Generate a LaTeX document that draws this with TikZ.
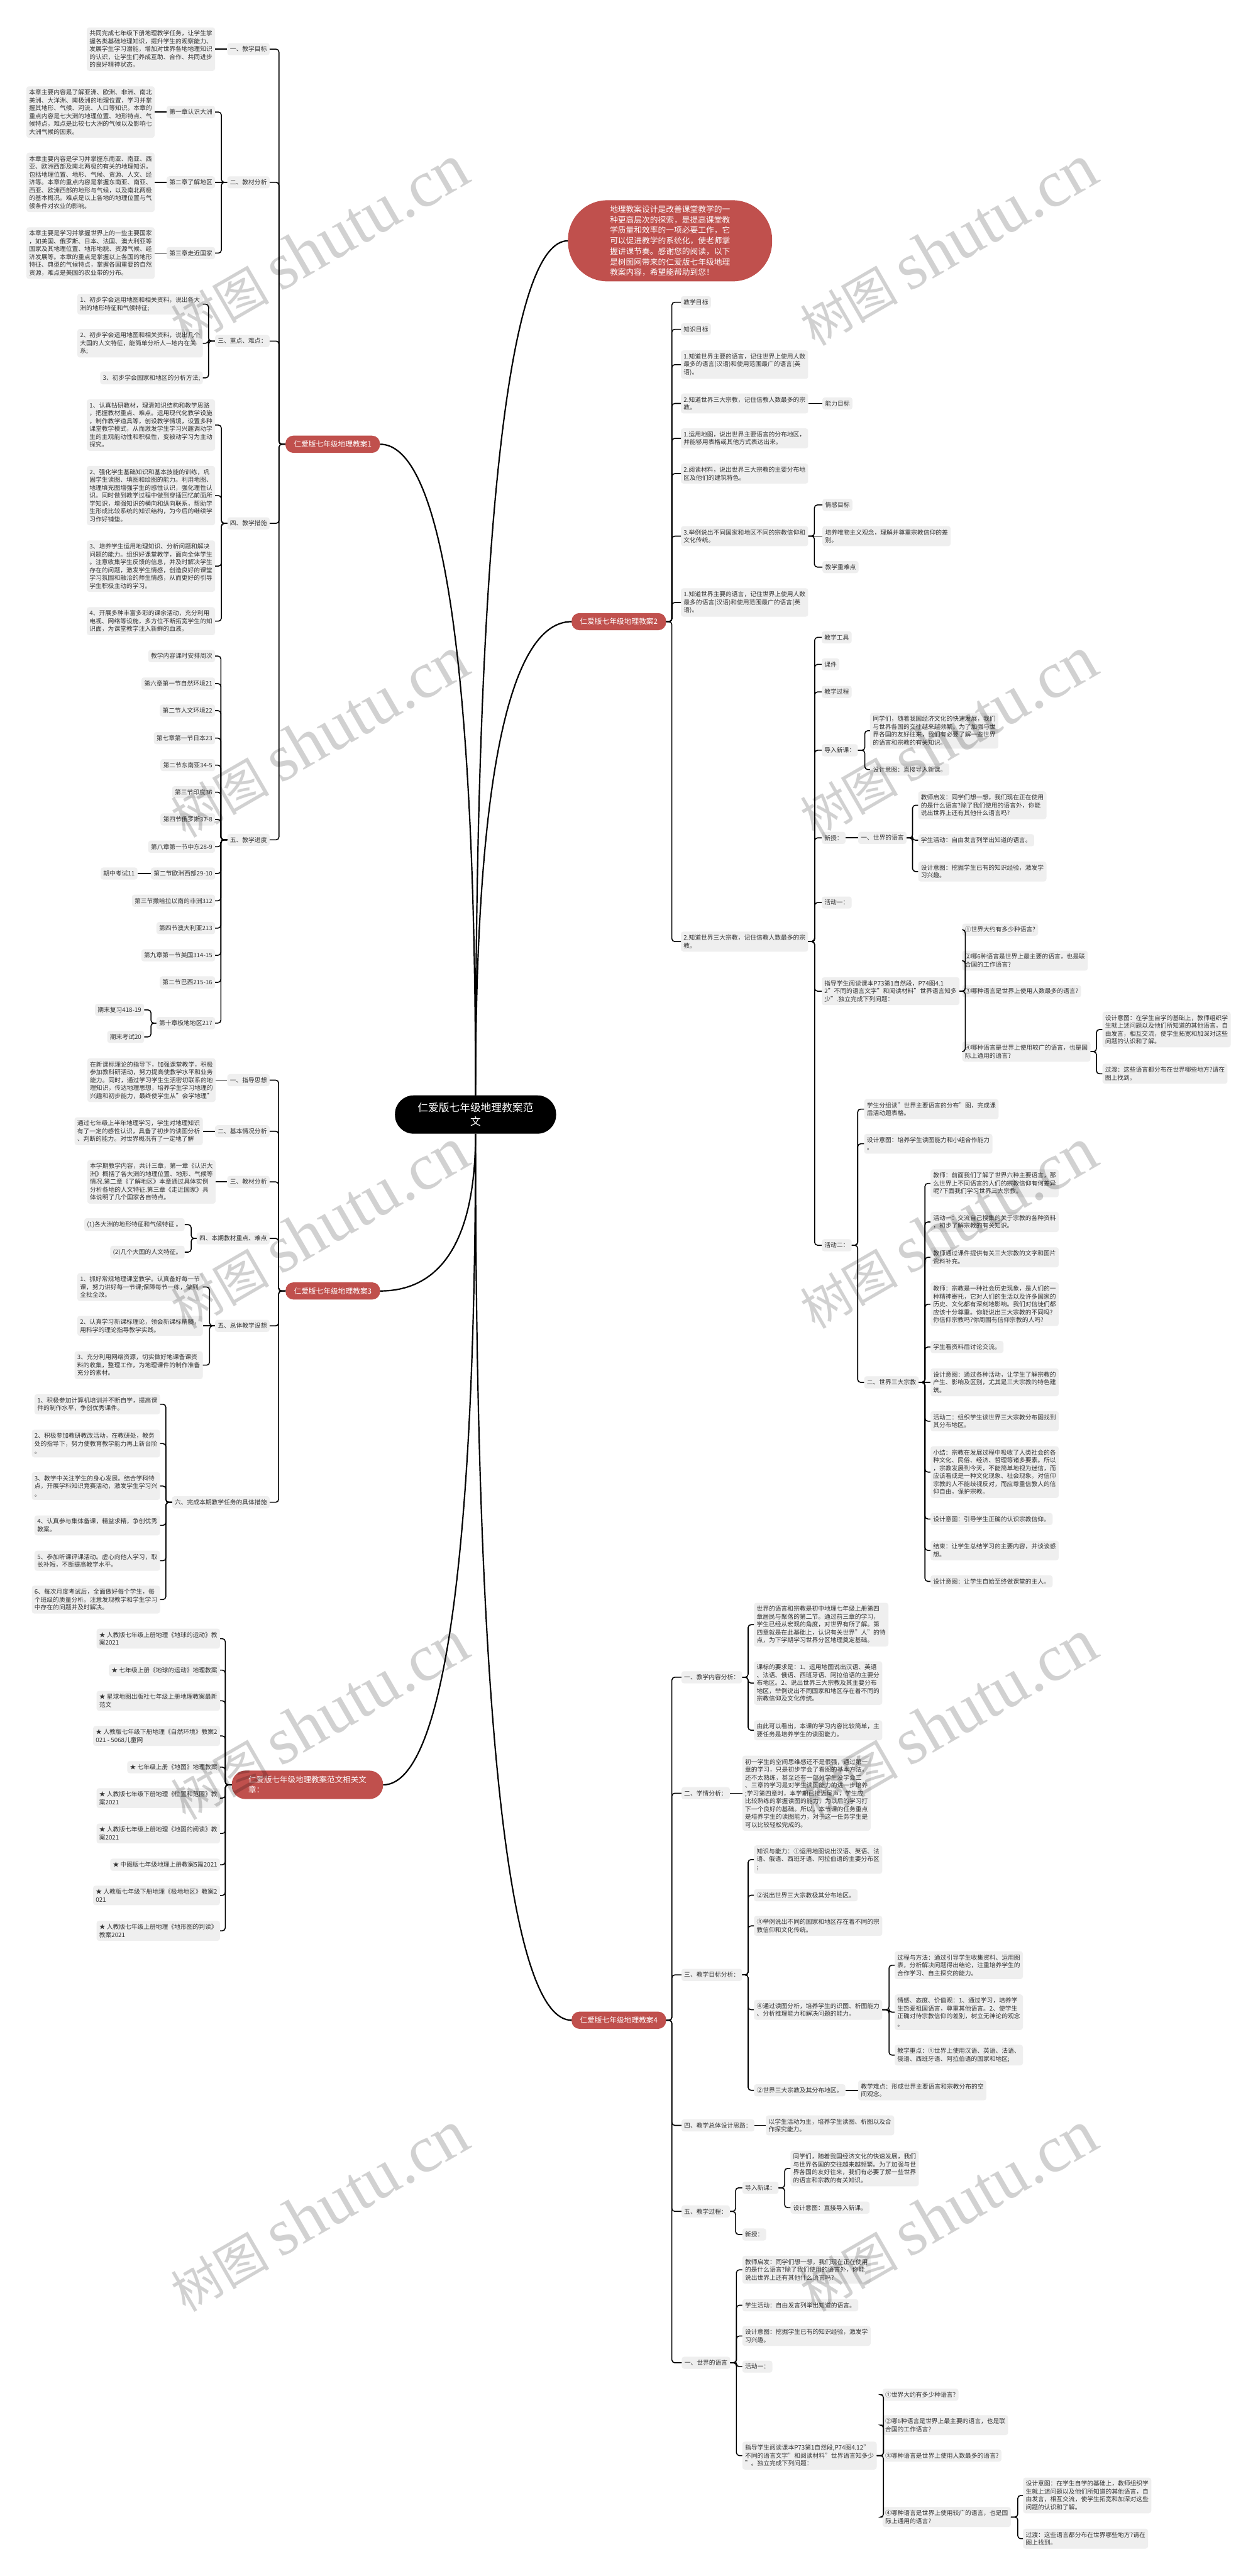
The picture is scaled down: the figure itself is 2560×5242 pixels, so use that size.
\documentclass[tikz,border=0pt]{standalone}
\usepackage{fontspec}
\setmainfont{Noto Sans CJK SC}
\newfontfamily\wmser{Liberation Serif}
\definecolor{bxg}{RGB}{239,239,239}
\definecolor{txt}{RGB}{51,51,51}
\definecolor{redc}{RGB}{192,80,77}
\newcommand\fbody{\fontsize{12.5pt}{16pt}\selectfont}
\newcommand\fred{\fontsize{15pt}{19pt}\selectfont}
\newcommand\fintro{\fontsize{16.3pt}{21.4pt}\selectfont}
\newcommand\froot{\fontsize{21.4pt}{29pt}\selectfont}
\newcommand\frel{\fontsize{16pt}{20.6pt}\selectfont}
\newcommand\nL[4]{\node[bx,anchor=east] (#1) at (#2,#3) {#4};}
\newcommand\nR[4]{\node[bx,anchor=west] (#1) at (#2,#3) {#4};}
\newcommand\lkL[3]{\draw[cn] (#1.west) -- ++(-#3,0) |- (#2.east);}
\newcommand\lkR[3]{\draw[cn] (#1.east) -- ++(#3,0) |- (#2.west);}
\newcommand\stL[2]{\draw[cn] (#1.west) -- (#2.east);}
\newcommand\stR[2]{\draw[cn] (#1.east) -- (#2.west);}
\newcommand\wmark[2]{\node[rotate=30,text=black,opacity=0.18,inner sep=0pt] at (#1,#2) {\fontsize{100pt}{100pt}\selectfont 树图 {\wmser\fontsize{135pt}{135pt}\selectfont shutu.cn}};}
\begin{document}
\begin{tikzpicture}[x=1pt,y=-1pt,
  bx/.style={fill=bxg,text=txt,font=\fbody,rounded corners=5pt,inner xsep=5.5pt,inner ysep=6.5pt,align=left},
  rd/.style={fill=redc,text=white,font=\fred,rounded corners=16pt,inner xsep=17pt,inner ysep=10.5pt},
  intro/.style={fill=redc,text=white,font=\fintro,align=left,minimum width=415.5pt,minimum height=165pt,rounded corners=80pt,inner sep=0pt},
  rootn/.style={fill=black,text=white,font=\froot,align=center,minimum width=328pt,minimum height=78pt,rounded corners=38pt,inner sep=0pt},
  rel/.style={fill=redc,text=white,font=\frel,align=left,minimum width=308pt,minimum height=58pt,rounded corners=28pt,inner sep=0pt},
  cn/.style={draw=black,line width=2pt,rounded corners=6pt},
  rc/.style={draw=black,line width=2.8pt}]
\useasboundingbox (0,0) rectangle (2560,5242);
\fill[white] (0,0) rectangle (2560,5242);

% ---------- root and first level ----------
\node[rootn] (root) at (968,2268) {仁爱版七年级地理教案范\\文};
\node[intro,anchor=west] (r0) at (1156,490) {地理教案设计是改善课堂教学的一\\种更高层次的探索，是提高课堂教\\学质量和效率的一项必要工作，它\\可以促进教学的系统化，使老师掌\\握讲课节奏。感谢您的阅读，以下\\是树图网带来的仁爱版七年级地理\\教案内容，希望能帮助到您！};
\node[rd] (r1) at (677.25,904) {仁爱版七年级地理教案1};
\node[rd] (r2) at (1259.75,1265) {仁爱版七年级地理教案2};
\node[rd] (r3) at (677.5,2627) {仁爱版七年级地理教案3};
\node[rd] (r4) at (1259.75,4111) {仁爱版七年级地理教案4};
\node[rel,anchor=east] (r5) at (780,3632) {仁爱版七年级地理教案范文相关文\\章：};

\draw[rc] (root.north) .. controls (968,1301.5) and (892.8,904) .. (r1.east);
\draw[rc] (root.north) .. controls (968,1011.7) and (1043.2,490) .. (r0.west);
\draw[rc] (root.north) .. controls (968,1554.2) and (1043.6,1265) .. (r2.west);
\draw[rc] (root.south) .. controls (968,2531) and (893.2,2627) .. (r3.east);
\draw[rc] (root.south) .. controls (968,3234.5) and (892.8,3632) .. (r5.east);
\draw[rc] (root.south) .. controls (968,3569.8) and (1043.6,4111) .. (r4.west);

% ---------- 教案1 ----------
\nL{a1}{549}{100}{一、教学目标}
\nL{a1c}{438}{100}{共同完成七年级下册地理教学任务，让学生掌\\握各类基础地理知识，提升学生的观察能力、\\发展学生学习潜能，增加对世界各地地理知识\\的认识，让学生们养成互助、合作、共同进步\\的良好精神状态。}
\nL{a2}{549}{371}{二、教材分析}
\nL{b1}{438}{228}{第一章认识大洲}
\nL{b2}{438}{371}{第二章了解地区}
\nL{b3}{438}{515}{第三章走近国家}
\nL{b1c}{315}{228}{本章主要内容是了解亚洲、欧洲、非洲、南北\\美洲、大洋洲、南极洲的地理位置，学习并掌\\握其地形、气候、河流、人口等知识。本章的\\重点内容是七大洲的地理位置、地形特点、气\\候特点，难点是比较七大洲的气候以及影响七\\大洲气候的因素。}
\nL{b2c}{315}{371}{本章主要内容是学习并掌握东南亚、南亚、西\\亚、欧洲西部及南北两极的有关的地理知识。\\包括地理位置、地形、气候、资源、人文、经\\济等。本章的重点内容是掌握东南亚、南亚、\\西亚、欧洲西部的地形与气候，以及南北两极\\的基本概况。难点是以上各地的地理位置与气\\候条件对农业的影响。}
\nL{b3c}{315}{515}{本章主要是学习并掌握世界上的一些主要国家\\，如美国、俄罗斯、日本、法国、澳大利亚等\\国家及其地理位置、地形地貌、资源气候、经\\济发展等。本章的重点是掌握以上各国的地形\\特征、典型的气候特点，掌握各国重要的自然\\资源，难点是美国的农业带的分布。}
\nL{a3}{549}{694}{三、重点、难点：}
\nL{c1}{413}{619}{1、初步学会运用地图和相关资料，说出各大\\洲的地形特征和气候特征;}
\nL{c2}{413}{698.5}{2、初步学会运用地图和相关资料，说出几个\\大国的人文特征，能简单分析人—地内在关\\系;}
\nL{c3}{413}{769}{3、初步学会国家和地区的分析方法;}
\nL{a4}{549}{1065}{四、教学措施}
\nL{d1}{438}{865}{1、认真钻研教材，理清知识结构和教学思路\\，把握教材重点、难点。运用现代化教学设施\\，制作教学道具等，创设教学情境，设置多种\\课堂教学模式，从而激发学生学习兴趣调动学\\生的主观能动性和积极性，变被动学习为主动\\探究。}
\nL{d2}{438}{1008.5}{2、强化学生基础知识和基本技能的训练，巩\\固学生读图、填图和绘图的能力。利用地图、\\地理填充图增强学生的感性认识，强化理性认\\识。同时做到教学过程中做到穿插回忆前面所\\学知识，增强知识的横向和纵向联系，帮助学\\生形成比较系统的知识结构，为今后的继续学\\习作好铺垫。}
\nL{d3}{438}{1152}{3、培养学生运用地理知识、分析问题和解决\\问题的能力。组织好课堂教学，面向全体学生\\。注意收集学生反馈的信息，并及时解决学生\\存在的问题，激发学生情感，创造良好的课堂\\学习氛围和融洽的师生情感，从而更好的引导\\学生积极主动的学习。}
\nL{d4}{438}{1264}{4、开展多种丰富多彩的课余活动，充分利用\\电视、网络等设施，多方位不断拓宽学生的知\\识面，为课堂教学注入新鲜的血液。}
\nL{a5}{549}{1709}{五、教学进度}
\nL{e1}{438}{1335}{教学内容课时安排周次}
\nL{e2}{438}{1391}{第六章第一节自然环境21}
\nL{e3}{438}{1446}{第二节人文环境22}
\nL{e4}{438}{1502}{第七章第一节日本23}
\nL{e5}{438}{1557}{第二节东南亚34-5}
\nL{e6}{438}{1612}{第三节印度36}
\nL{e7}{438}{1667.5}{第四节俄罗斯37-8}
\nL{e8}{438}{1723}{第八章第一节中东28-9}
\nL{e9}{438}{1777.6}{第二节欧洲西部29-10}
\nL{e9a}{280}{1777.6}{期中考试11}
\nL{e10}{438}{1833}{第三节撒哈拉以南的非洲312}
\nL{e11}{438}{1888.7}{第四节澳大利亚213}
\nL{e12}{438}{1944}{第九章第一节美国314-15}
\nL{e13}{438}{1999}{第二节巴西215-16}
\nL{e14}{438}{2082}{第十章极地地区217}
\nL{e14a}{293.5}{2055}{期末复习418-19}
\nL{e14b}{293.5}{2110}{期末考试20}

\foreach \c in {a1,a2,a3,a4,a5} {\lkL{r1}{\c}{13}}
\stL{a1}{a1c}
\lkL{a2}{b1}{12} \stL{a2}{b2} \lkL{a2}{b3}{12}
\stL{b1}{b1c} \stL{b2}{b2c} \stL{b3}{b3c}
\foreach \c in {c1,c2,c3} {\lkL{a3}{\c}{13}}
\foreach \c in {d1,d2,d3,d4} {\lkL{a4}{\c}{12}}
\foreach \c in {e1,e2,e3,e4,e5,e6,e7,e8,e9,e10,e11,e12,e13,e14} {\lkL{a5}{\c}{13}}
\stL{e9}{e9a}
\lkL{e14}{e14a}{11} \lkL{e14}{e14b}{11}

% ---------- 教案3 ----------
\nL{f1}{549}{2198}{一、指导思想}
\nL{f1c}{439}{2198}{在新课标理论的指导下，加强课堂教学，积极\\参加教科研活动，努力提高使教学水平和业务\\能力。同时，通过学习学生生活密切联系的地\\理知识，传达地理思想，培养学生学习地理的\\兴趣和初步能力，最终使学生从"会学地理"}
\nL{f2}{549}{2302}{二、基本情况分析}
\nL{f2c}{413}{2302}{通过七年级上半年地理学习，学生对地理知识\\有了一定的感性认识，具备了初步的读图分析\\、判断的能力。对世界概况有了一定地了解}
\nL{f3}{549}{2405}{三、教材分析}
\nL{f3c}{439}{2405}{本学期教学内容，共计三章，第一章《认识大\\洲》概括了各大洲的地理位置、地形、气候等\\情况.第二章《了解地区》本章通过具体实例\\分析各地的人文特征.第三章《走近国家》具\\体说明了几个国家各自特点。}
\nL{f4}{549}{2520}{四、本期教材重点、难点}
\nL{f4a}{376}{2492}{(1)各大洲的地形特征和气候特征 。}
\nL{f4b}{376}{2548}{(2)几个大国的人文特征。}
\nL{f5}{549}{2698}{五、总体教学设想}
\nL{f5a}{413}{2619}{1、抓好常规地理课堂教学。认真备好每一节\\课，努力讲好每一节课;保障每节一练，做到\\全批全改。}
\nL{f5b}{413}{2698}{2、认真学习新课标理论，领会新课标精髓，\\用科学的理论指导教学实践。}
\nL{f5c}{413}{2778}{3、充分利用网络资源，切实做好地课备课资\\料的收集，整理工作，为地理课件的制作准备\\充分的素材。}
\nL{f6}{549}{3057}{六、完成本期教学任务的具体措施}
\nL{f6a}{326}{2857.5}{1、积极参加计算机培训并不断自学，提高课\\件的制作水平，争创优秀课件。}
\nL{f6b}{326}{2937.5}{2、积极参加教研教改活动，在教研处，教务\\处的指导下，努力使教育教学能力再上新台阶\\。}
\nL{f6c}{326}{3024}{3、教学中关注学生的身心发展。结合学科特\\点，开展学科知识竞赛活动，激发学生学习兴\\。}
\nL{f6d}{326}{3104}{4、认真参与集体备课，精益求精，争创优秀\\教案。}
\nL{f6e}{326}{3176}{5、参加听课评课活动。虚心向他人学习，取\\长补短，不断提高教学水平。}
\nL{f6f}{326}{3255}{6、每次月度考试后，全面做好每个学生，每\\个班级的质量分析。注意发现教学和学生学习\\中存在的问题并及时解决。}

\foreach \c in {f1,f2,f3,f4,f5,f6} {\lkL{r3}{\c}{14}}
\stL{f1}{f1c} \stL{f2}{f2c} \stL{f3}{f3c}
\lkL{f4}{f4a}{11} \lkL{f4}{f4b}{11}
\lkL{f5}{f5a}{11} \stL{f5}{f5b} \lkL{f5}{f5c}{11}
\foreach \c in {f6a,f6b,f6c,f6d,f6e,f6f} {\lkL{f6}{\c}{12.5}}

% ---------- 相关文章 ----------
\nL{g1}{448}{3334.5}{★ 人教版七年级上册地理《地球的运动》教\\案2021}
\nL{g2}{448}{3398.6}{★ 七年级上册《地球的运动》地理教案}
\nL{g3}{448}{3461}{★ 星球地图出版社七年级上册地理教案最新\\范文}
\nL{g4}{448}{3532.5}{★ 人教版七年级下册地理《自然环境》教案2\\021 - 5068儿童网}
\nL{g5}{448}{3596}{★ 七年级上册《地图》地理教案}
\nL{g6}{448}{3659}{★ 人教版七年级下册地理《位置和范围》教\\案2021}
\nL{g7}{448}{3731}{★ 人教版七年级上册地理《地图的阅读》教\\案2021}
\nL{g8}{448}{3794.6}{★ 中图版七年级地理上册教案5篇2021}
\nL{g9}{448}{3857}{★ 人教版七年级下册地理《极地地区》教案2\\021}
\nL{g10}{448}{3929}{★ 人教版七年级上册地理《地形图的判读》\\教案2021}
\foreach \c in {g1,g2,g3,g4,g5,g6,g7,g8,g9,g10} {\lkL{r5}{\c}{13}}

% ---------- 教案2 ----------
\nR{h1}{1386}{615}{教学目标}
\nR{h2}{1386}{670}{知识目标}
\nR{h3}{1386}{742}{1.知道世界主要的语言，记住世界上使用人数\\最多的语言(汉语)和使用范围最广的语言(英\\语)。}
\nR{h4}{1386}{821}{2.知道世界三大宗教，记住信教人数最多的宗\\教。}
\nR{h4a}{1674}{821}{能力目标}
\nR{h5}{1386}{892}{1.运用地图，说出世界主要语言的分布地区，\\并能够用表格或其他方式表达出来。}
\nR{h6}{1386}{963.7}{2.阅读材料，说出世界三大宗教的主要分布地\\区及他们的建筑特色。}
\nR{h7}{1386}{1091}{3.举例说出不同国家和地区不同的宗教信仰和\\文化传统。}
\nR{h7a}{1674}{1027.5}{情感目标}
\nR{h7b}{1674}{1091}{培养唯物主义观念，理解并尊重宗教信仰的差\\别。}
\nR{h7c}{1674}{1154}{教学重难点}
\nR{h8}{1386}{1226}{1.知道世界主要的语言，记住世界上使用人数\\最多的语言(汉语)和使用范围最广的语言(英\\语)。}
\nR{h9}{1386}{1916}{2.知道世界三大宗教，记住信教人数最多的宗\\教。}
\nR{i1}{1672.5}{1297}{教学工具}
\nR{i2}{1672.5}{1352}{课件}
\nR{i3}{1672.5}{1408}{教学过程}
\nR{i4}{1672.5}{1526.7}{导入新课：}
\nR{i4a}{1771}{1487}{同学们，随着我国经济文化的快速发展，我们\\与世界各国的交往越来越频繁。为了加强与世\\界各国的友好往来，我们有必要了解一些世界\\的语言和宗教的有关知识。}
\nR{i4b}{1771}{1566}{设计意图：直接导入新课。}
\nR{i5}{1672.5}{1705}{新授：}
\nR{i5a}{1746.7}{1705}{一、世界的语言}
\nR{i5a1}{1869}{1638.6}{教师启发：同学们想一想，我们现在正在使用\\的是什么语言?除了我们使用的语言外，你能\\说出世界上还有其他什么语言吗?}
\nR{i5a2}{1869}{1709.8}{学生活动：自由发言列举出知道的语言。}
\nR{i5a3}{1869}{1773.5}{设计意图：挖掘学生已有的知识经验，激发学\\习兴趣。}
\nR{i6}{1672.5}{1836.6}{活动一：}
\nR{i7}{1672.5}{2017}{指导学生阅读课本P73第1自然段，P74图4.1\\2"不同的语言文字"和阅读材料"世界语言知多\\少".独立完成下列问题：}
\nR{j1}{1958.6}{1891.7}{①世界大约有多少种语言?}
\nR{j2}{1958.6}{1954.8}{②哪6种语言是世界上最主要的语言，也是联\\合国的工作语言?}
\nR{j3}{1958.6}{2017}{③哪种语言是世界上使用人数最多的语言?}
\nR{j4}{1958.6}{2140}{④哪种语言是世界上使用较广的语言，也是国\\际上通用的语言?}
\nR{j4a}{2244}{2095}{设计意图：在学生自学的基础上，教师组织学\\生就上述问题以及他们所知道的其他语言，自\\由发言，相互交流，使学生拓宽和加深对这些\\问题的认识和了解。}
\nR{j4b}{2244}{2185}{过渡：这些语言都分布在世界哪些地方?请在\\图上找到。}
\nR{i8}{1672.5}{2534}{活动二：}
\nR{k1}{1759}{2257}{学生分组读"世界主要语言的分布"图，完成课\\后活动题表格。}
\nR{k2}{1759}{2327.5}{设计意图：培养学生读图能力和小组合作能力\\。}
\nR{k3}{1759}{2813}{二、世界三大宗教}
\nR{k31}{1894}{2408}{教师：前面我们了解了世界六种主要语言，那\\么世界上不同语言的人们的宗教信仰有何差异\\呢?下面我们学习世界三大宗教。}
\nR{k32}{1894}{2486.6}{活动一：交流自己搜集的关于宗教的各种资料\\，初步了解宗教的有关知识。}
\nR{k33}{1894}{2558.5}{教师通过课件提供有关三大宗教的文字和图片\\资料补充。}
\nR{k34}{1894}{2654}{教师：宗教是一种社会历史现象，是人们的一\\种精神寄托，它对人们的生活以及许多国家的\\历史、文化都有深刻地影响。我们对信徒们都\\应该十分尊重。你能说出三大宗教的不同吗?\\你信仰宗教吗?你周围有信仰宗教的人吗?}
\nR{k35}{1894}{2741}{学生看资料后讨论交流。}
\nR{k36}{1894}{2813}{设计意图：通过各种活动，让学生了解宗教的\\产生、影响及区别，尤其是三大宗教的特色建\\筑。}
\nR{k37}{1894}{2892}{活动二：组织学生读世界三大宗教分布图找到\\其分布地区。}
\nR{k38}{1894}{2995.6}{小结：宗教在发展过程中吸收了人类社会的各\\种文化、民俗、经济、哲理等诸多要素。所以\\，宗教发展到今天，不能简单地视为迷信，而\\应该看成是一种文化现象、社会现象。对信仰\\宗教的人不能歧视反对，而应尊重信教人的信\\仰自由，保护宗教。}
\nR{k39}{1894}{3091}{设计意图：引导学生正确的认识宗教信仰。}
\nR{k310}{1894}{3155}{结束：让学生总结学习的主要内容，并谈谈感\\想。}
\nR{k311}{1894}{3218}{设计意图：让学生自始至终做课堂的主人。}

\foreach \c in {h1,h2,h3,h4,h5,h6,h7,h8,h9} {\lkR{r2}{\c}{11.5}}
\stR{h4}{h4a}
\lkR{h7}{h7a}{12.5} \stR{h7}{h7b} \lkR{h7}{h7c}{12.5}
\foreach \c in {i1,i2,i3,i4,i5,i6,i7,i8} {\lkR{h9}{\c}{13}}
\lkR{i4}{i4a}{14} \lkR{i4}{i4b}{14}
\stR{i5}{i5a}
\foreach \c in {i5a1,i5a2,i5a3} {\lkR{i5a}{\c}{12}}
\lkR{i7}{j1}{11.6} \lkR{i7}{j2}{11.6} \stR{i7}{j3} \lkR{i7}{j4}{11.6}
\lkR{j4}{j4a}{12} \lkR{j4}{j4b}{12}
\foreach \c in {k1,k2,k3} {\lkR{i8}{\c}{12}}
\foreach \c in {k31,k32,k33,k34,k35,k37,k38,k39,k310,k311} {\lkR{k3}{\c}{12.5}}
\stR{k3}{k36}

% ---------- 教案4 ----------
\nR{l1}{1387}{3413}{一、教学内容分析：}
\nR{l1a}{1534.7}{3306}{世界的语言和宗教是初中地理七年级上册第四\\章居民与聚落的第二节。通过前三章的学习，\\学生已经从宏观的角度，对世界有所了解。第\\四章就是在此基础上，认识有关世界"人"的特\\点，为下学期学习世界分区地理奠定基础。}
\nR{l1b}{1534.7}{3425}{课标的要求是：1、运用地图说出汉语、英语\\、法语、俄语、西班牙语、阿拉伯语的主要分\\布地区。2、说出世界三大宗教及其主要分布\\地区，举例说出不同国家和地区存在着不同的\\宗教信仰及文化传统。}
\nR{l1c}{1534.7}{3521}{由此可以看出，本课的学习内容比较简单，主\\要任务是培养学生的读图能力。}
\nR{l2}{1387}{3649}{二、学情分析：}
\nR{l2a}{1511}{3649}{初一学生的空间思维感还不是很强，通过第一\\章的学习，只是初步学会了看图的基本方法，\\还不太熟练，甚至还有一部分学生没学会二\\、三章的学习是对学生读图能力的进一步培养\\;学习第四章时，本学期已接近尾声，学生应\\比较熟练的掌握读图的能力，为以后的学习打\\下一个良好的基础。所以，本节课的任务重点\\是培养学生的读图能力，对于这一任务学生是\\可以比较轻松完成的。}
\nR{l3}{1387}{4018.75}{三、教学目标分析：}
\nR{m1}{1534.7}{3784}{知识与能力：①运用地图说出汉语、英语、法\\语、俄语、西班牙语、阿拉伯语的主要分布区\\;}
\nR{m2}{1534.7}{3856.6}{②说出世界三大宗教极其分布地区。}
\nR{m3}{1534.7}{3919}{③举例说出不同的国家和地区存在着不同的宗\\教信仰和文化传统。}
\nR{m4}{1534.7}{4089.7}{④通过读图分析，培养学生的识图、析图能力\\、分析推理能力和解决问题的能力。}
\nR{m4a}{1821}{3999}{过程与方法：通过引导学生收集资料、运用图\\表，分析解决问题得出结论，注重培养学生的\\合作学习、自主探究的能力。}
\nR{m4b}{1821}{4094.6}{情感、态度、价值观：1、通过学习，培养学\\生热爱祖国语言，尊重其他语言。2、使学生\\正确对待宗教信仰的差别，树立无神论的观念\\。}
\nR{m4c}{1821}{4182}{教学重点：①世界上使用汉语、英语、法语、\\俄语、西班牙语、阿拉伯语的国家和地区;}
\nR{m5}{1534.7}{4253.6}{②世界三大宗教及其分布地区。}
\nR{m5a}{1746.7}{4253.6}{教学难点：形成世界主要语言和宗教分布的空\\间观念。}
\nR{l4}{1387}{4325}{四、教学总体设计思路：}
\nR{l4a}{1559}{4325}{以学生活动为主，培养学生读图、析图以及合\\作探究能力。}
\nR{l5}{1387}{4500}{五、教学过程：}
\nR{n1}{1511}{4452}{导入新课：}
\nR{n1a}{1609}{4412.5}{同学们，随着我国经济文化的快速发展，我们\\与世界各国的交往越来越频繁。为了加强与世\\界各国的友好往来，我们有必要了解一些世界\\的语言和宗教的有关知识。}
\nR{n1b}{1609}{4492.4}{设计意图：直接导入新课。}
\nR{n2}{1511}{4547}{新授：}
\nR{l6}{1387.7}{4808}{一、世界的语言}
\nR{o1}{1511}{4618.75}{教师启发：同学们想一想，我们现在正在使用\\的是什么语言?除了我们使用的语言外，你能\\说出世界上还有其他什么语言吗?}
\nR{o2}{1511}{4691}{学生活动：自由发言列举出知道的语言。}
\nR{o3}{1511}{4753.5}{设计意图：挖掘学生已有的知识经验，激发学\\习兴趣。}
\nR{o4}{1511}{4816}{活动一：}
\nR{o5}{1511}{4997}{指导学生阅读课本P73第1自然段,P74图4.12"\\不同的语言文字"和阅读材料"世界语言知多少\\"。独立完成下列问题：}
\nR{p1}{1796.4}{4873}{①世界大约有多少种语言?}
\nR{p2}{1796.4}{4935}{②哪6种语言是世界上最主要的语言，也是联\\合国的工作语言?}
\nR{p3}{1796.4}{4997}{③哪种语言是世界上使用人数最多的语言?}
\nR{p4}{1796.4}{5122}{④哪种语言是世界上使用较广的语言，也是国\\际上通用的语言?}
\nR{p4a}{2082.4}{5078}{设计意图：在学生自学的基础上，教师组织学\\生就上述问题以及他们所知道的其他语言，自\\由发言，相互交流，使学生拓宽和加深对这些\\问题的认识和了解。}
\nR{p4b}{2082.4}{5166}{过渡：这些语言都分布在世界哪些地方?请在\\图上找到。}

\foreach \c in {l1,l2,l3,l4,l5,l6} {\lkR{r4}{\c}{11.5}}
\foreach \c in {l1a,l1b,l1c} {\lkR{l1}{\c}{12}}
\stR{l2}{l2a}
\foreach \c in {m1,m2,m3,m4,m5} {\lkR{l3}{\c}{12}}
\foreach \c in {m4a,m4b,m4c} {\lkR{m4}{\c}{13.6}}
\stR{m5}{m5a}
\stR{l4}{l4a}
\lkR{l5}{n1}{11.5} \lkR{l5}{n2}{11.5}
\lkR{n1}{n1a}{12.3} \lkR{n1}{n1b}{12.3}
\foreach \c in {o1,o2,o3,o4,o5} {\lkR{l6}{\c}{12.5}}
\lkR{o5}{p1}{13.5} \lkR{o5}{p2}{13.5} \stR{o5}{p3} \lkR{o5}{p4}{13.5}
\lkR{p4}{p4a}{14} \lkR{p4}{p4b}{14}

% ---------- watermarks ----------
\foreach \yy in {500,1500,2500,3500,4500} {\wmark{650}{\yy}\wmark{1930}{\yy}}
\end{tikzpicture}
\end{document}
